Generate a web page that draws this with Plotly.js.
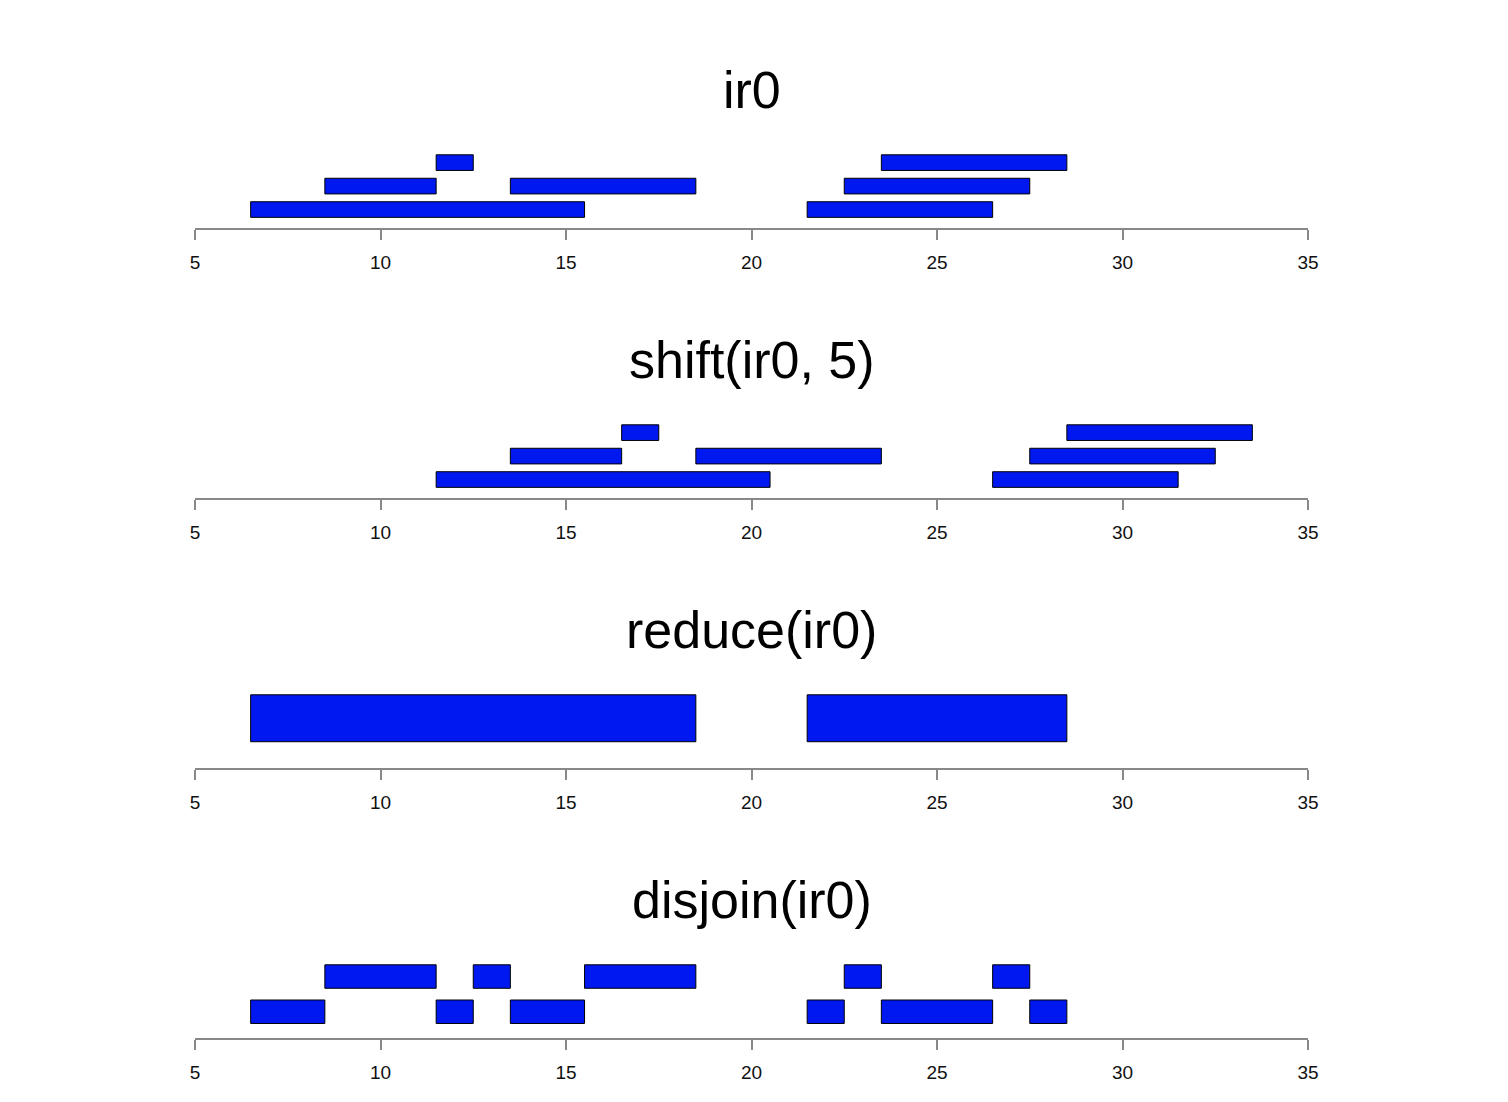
<!DOCTYPE html>
<html>
<head>
<meta charset="utf-8">
<script src="https://cdn.plot.ly/plotly-3.0.1.min.js"></script>
<style>html,body{margin:0;padding:0;background:#fff;}#chart{width:1508px;height:1102px;}</style>
</head>
<body>
<div id="chart"></div>
<script>
// Panel titles
const panelTitles = ["ir0", "shift(ir0, 5)", "reduce(ir0)", "disjoin(ir0)"];

// ir0
const ir0Start = [7, 9, 12, 14, 22, 23, 24];
const ir0End   = [15, 11, 12, 18, 26, 27, 28];
const ir0Bin   = [1, 2, 3, 2, 1, 2, 3];

// shift(ir0, 5)
const shiftStart = [12, 14, 17, 19, 27, 28, 29];
const shiftEnd   = [20, 16, 17, 23, 31, 32, 33];
const shiftBin   = [1, 2, 3, 2, 1, 2, 3];

// reduce(ir0)
const reduceStart = [7, 22];
const reduceEnd   = [18, 28];
const reduceBin   = [1, 1];

// disjoin(ir0)
const disjoinStart = [7, 9, 12, 13, 14, 16, 22, 23, 24, 27, 28];
const disjoinEnd   = [8, 11, 12, 13, 15, 18, 22, 23, 26, 27, 28];
const disjoinBin   = [1, 2, 1, 2, 1, 2, 1, 2, 1, 2, 1];

const tickVals = [5, 10, 15, 20, 25, 30, 35];
const tickText = ["5", "10", "15", "20", "25", "30", "35"];

const panels = [
  {s: ir0Start, e: ir0End, b: ir0Bin},
  {s: shiftStart, e: shiftEnd, b: shiftBin},
  {s: reduceStart, e: reduceEnd, b: reduceBin},
  {s: disjoinStart, e: disjoinEnd, b: disjoinBin}
];

const H = 1102;
const sep = 0.5, hgt = 1;
const data = [];
const layout = {
  width: 1508, height: 1102,
  margin: {l: 195, r: 200, t: 0, b: 0},
  paper_bgcolor: "#fff", plot_bgcolor: "#fff",
  showlegend: false,
  barmode: "overlay",
  font: {family: "Liberation Sans, Arial, sans-serif", color: "#000"},
  annotations: []
};

panels.forEach((p, k) => {
  const idx = k === 0 ? "" : String(k + 1);
  const nb = Math.max(...p.b);
  const ymax = nb * (hgt + sep);
  data.push({
    type: "bar",
    orientation: "h",
    x: p.s.map((v, i) => p.e[i] - v + 1),
    base: p.s.map(v => v - 0.5),
    y: p.b.map(b => b * (sep + hgt) - hgt / 2),
    width: hgt,
    marker: {color: "rgb(0,24,240)", line: {color: "#000", width: 1}},
    xaxis: "x" + idx, yaxis: "y" + idx,
    hoverinfo: "skip"
  });
  const bottomPx = 228 + 270 * k;
  const topPx = bottomPx - 76;
  layout["xaxis" + idx] = {
    domain: [0, 1], anchor: "y" + idx,
    range: [5, 35], fixedrange: true,
    tickmode: "array", tickvals: tickVals, ticktext: tickText,
    ticks: "outside", ticklen: 10, tickwidth: 2, tickcolor: "#888",
    ticklabelstandoff: 6,
    showline: true, linecolor: "#888", linewidth: 2,
    showgrid: false, zeroline: false,
    tickfont: {size: 19, color: "#111", family: "Liberation Sans, Arial, sans-serif"}
  };
  layout["yaxis" + idx] = {
    domain: [1 - bottomPx / H, 1 - topPx / H], anchor: "x" + idx,
    range: [-0.04 * ymax, 1.04 * ymax],
    visible: false, showgrid: false, zeroline: false, fixedrange: true
  };
  layout.annotations.push({
    text: panelTitles[k], xref: "paper", yref: "paper",
    x: 0.5, y: 1 - (90 + 270 * k) / H,
    xanchor: "center", yanchor: "middle", showarrow: false,
    font: {size: 52, color: "#000", family: "Liberation Sans, Arial, sans-serif"}
  });
});

Plotly.newPlot("chart", data, layout, {staticPlot: true, displayModeBar: false});
</script>
</body>
</html>
